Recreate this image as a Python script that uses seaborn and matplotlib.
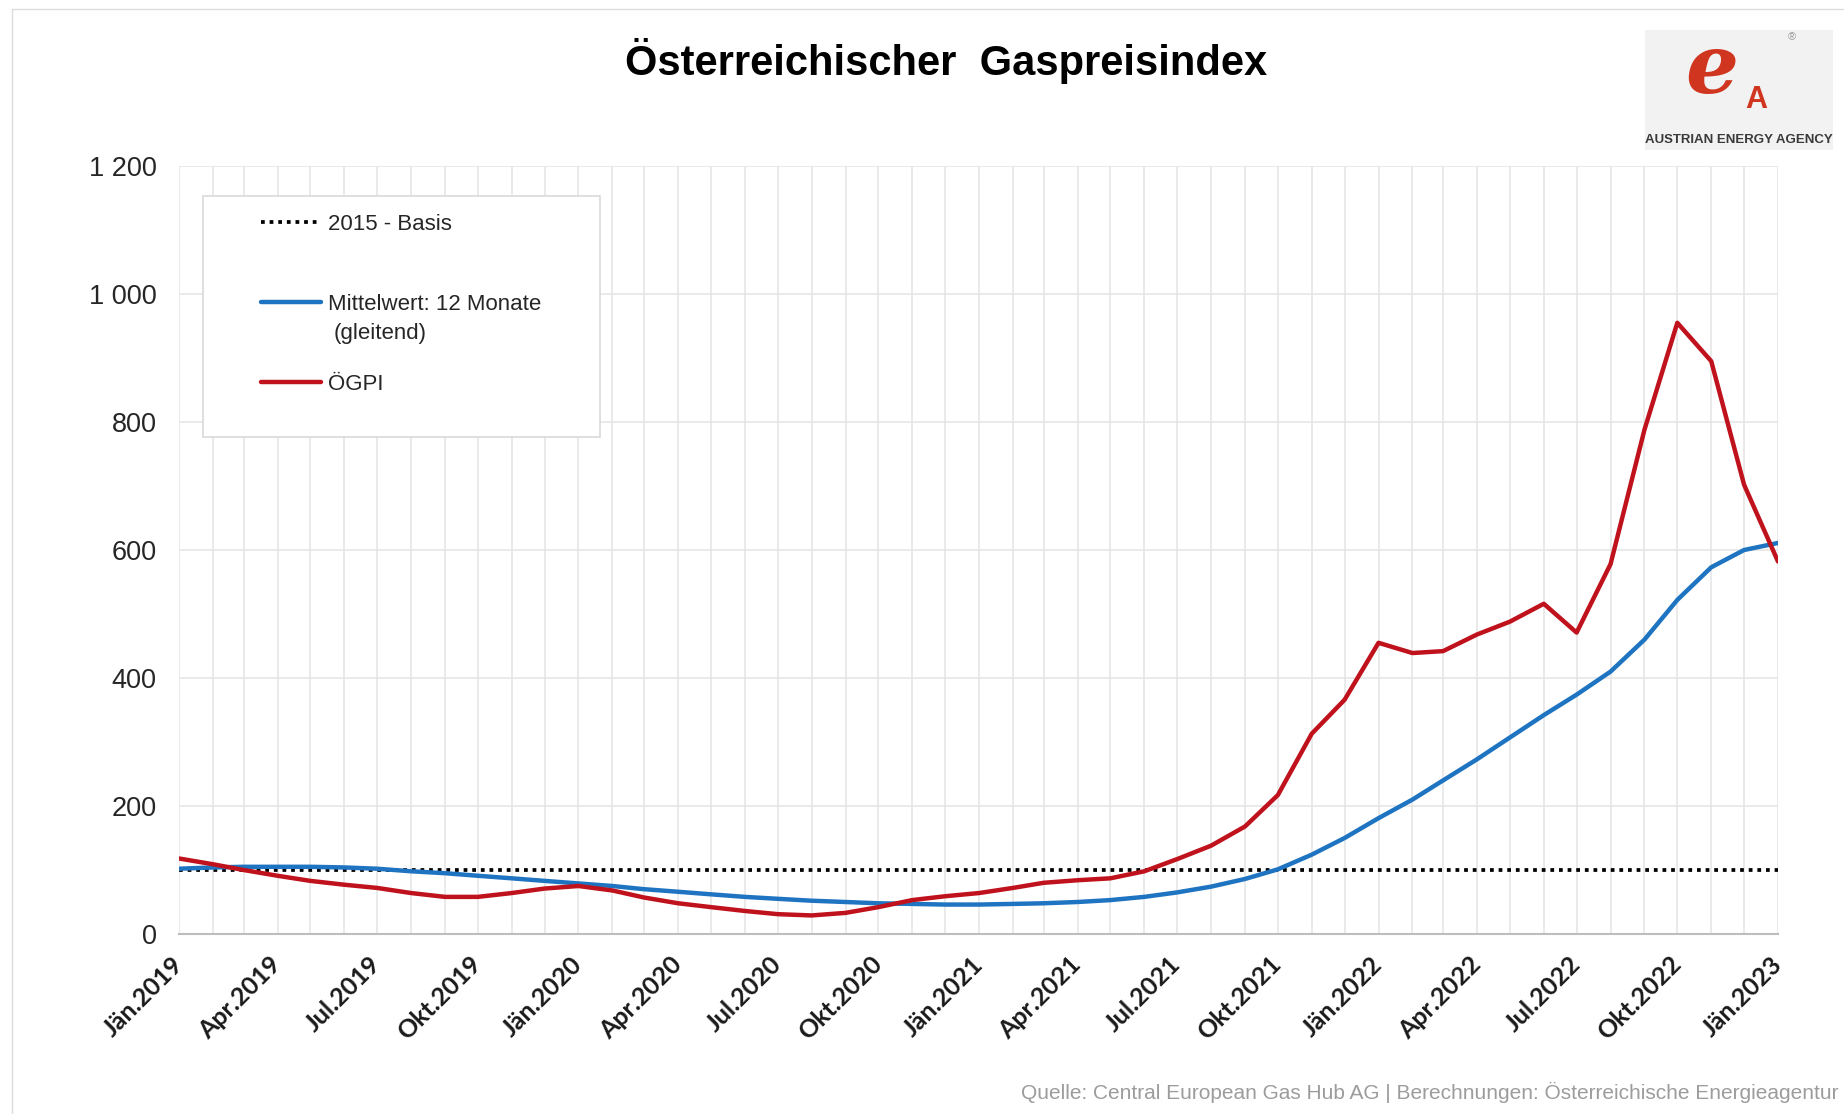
import pandas as pd
import matplotlib.pyplot as plt
import matplotlib.dates as mdates
from matplotlib.ticker import FuncFormatter, MultipleLocator
from matplotlib.patches import Rectangle
from matplotlib.lines import Line2D
import seaborn as sns

# Monthly values Jan 2019 - Jan 2023
months = pd.date_range("2019-01-01", "2023-01-01", freq="MS")

ogpi = [118, 109, 100, 91, 83, 77, 72, 64, 58, 58, 64, 71,
        75, 68, 57, 48, 42, 36, 31, 29, 33, 42, 53, 59,
        64, 72, 80, 84, 87, 98, 117, 138, 168, 217, 313, 366,
        455, 439, 442, 468, 488, 516, 471, 578, 788, 955, 895, 702,
        582]

mittelwert = [102, 104, 105, 105, 105, 104, 102, 98, 95, 91, 87, 83,
              79, 75, 70, 66, 62, 58, 55, 52, 50, 48, 47, 46,
              46, 47, 48, 50, 53, 58, 65, 74, 86, 101, 124, 150,
              181, 210, 240, 273, 307, 342, 374, 410, 460, 522, 573, 600,
              611]

basis = 100

tick_labels = ["Jän.2019", "Apr.2019", "Jul.2019", "Okt.2019",
               "Jän.2020", "Apr.2020", "Jul.2020", "Okt.2020",
               "Jän.2021", "Apr.2021", "Jul.2021", "Okt.2021",
               "Jän.2022", "Apr.2022", "Jul.2022", "Okt.2022",
               "Jän.2023"]

df = pd.DataFrame({"Monat": months, "ÖGPI": ogpi, "Mittelwert": mittelwert})
df["Basis"] = basis

sns.set_theme(style="white")
plt.rcParams["font.family"] = ["Liberation Sans", "DejaVu Sans"]

W, H = 1844, 1114
fig = plt.figure(figsize=(W / 100, H / 100), dpi=100)
ax = fig.add_axes([179 / W, 1 - 934 / H, 1599 / W, 768 / H])

BLUE = "#1f74c2"
RED = "#c0121c"

sns.lineplot(data=df, x="Monat", y="Basis", color="black", lw=2.7,
             linestyle=(0, (1, 1.3)), ax=ax, label="2015 - Basis", zorder=3)
sns.lineplot(data=df, x="Monat", y="Mittelwert", color=BLUE, lw=3.2,
             ax=ax, label="Mittelwert: 12 Monate", zorder=4)
sns.lineplot(data=df, x="Monat", y="ÖGPI", color=RED, lw=3.2,
             ax=ax, label="ÖGPI", zorder=5)

ax.set_xlim(months[0], months[-1])
ax.set_ylim(0, 1200)
ax.set_xlabel("")
ax.set_ylabel("")

ax.yaxis.set_major_locator(MultipleLocator(200))
ax.yaxis.set_major_formatter(FuncFormatter(lambda v, p: f"{int(v):,}".replace(",", " ")))

ax.set_xticks(months[::3])
ax.set_xticklabels(tick_labels, rotation=45, ha="right", va="center",
                   rotation_mode="anchor", fontfamily="Lato",
                   fontweight="bold", fontsize=18, color="#1a1a1a")
ax.xaxis.set_minor_locator(mdates.MonthLocator())

ax.grid(True, which="major", axis="y", color="#e6e6e6", lw=1.2)
ax.grid(True, which="both", axis="x", color="#e6e6e6", lw=1.2)
ax.tick_params(axis="both", which="both", length=0)
ax.tick_params(axis="y", labelsize=19.5, pad=16, labelcolor="#262626")
ax.tick_params(axis="x", pad=19)

for side in ["top", "right", "left"]:
    ax.spines[side].set_visible(False)
ax.spines["bottom"].set_color("#bdbdbd")
ax.spines["bottom"].set_linewidth(1.5)

# legend box
box = Rectangle((203 / W, 1 - 437 / H), 397 / W, 241 / H, transform=fig.transFigure,
                facecolor="white", edgecolor="#d9d9d9", lw=1.2, zorder=6)
ax.add_patch(box)
handles, labels = ax.get_legend_handles_labels()
leg = ax.legend(handles, labels, loc="upper left",
                bbox_to_anchor=(261 / W, 1 - 214 / H), bbox_transform=fig.transFigure,
                frameon=False, fontsize=16, handlelength=2.7, handletextpad=0.3,
                labelspacing=2.65, borderpad=0, borderaxespad=0)
leg.set_zorder(7)
for t in leg.get_texts():
    t.set_color("#262626")
fig.text(334 / W, 1 - 333 / H, "(gleitend)", fontsize=16, color="#262626",
         va="center", ha="left", zorder=8)

# title
fig.text(946 / W, 1 - 61 / H, "Österreichischer  Gaspreisindex", fontsize=30,
         fontweight="bold", ha="center", va="center", color="black")

# logo
fig.patches.append(Rectangle((1645 / W, 1 - 150 / H), 188 / W, 120 / H,
                             transform=fig.transFigure, facecolor="#f2f2f2",
                             edgecolor="none"))
fig.text(1712 / W, 1 - 70 / H, "e", fontsize=60, fontstyle="italic", fontweight="bold",
         family="DejaVu Serif", color="#d0351f", ha="center", va="center")
fig.text(1756 / W, 1 - 100 / H, "A", fontsize=22, fontweight="bold",
         color="#d0351f", ha="center", va="center")
fig.text(1792 / W, 1 - 37 / H, "®", fontsize=8, color="#9a9a9a", ha="center", va="center")
fig.text(1739 / W, 1 - 140 / H, "AUSTRIAN ENERGY AGENCY", fontsize=9.5, fontweight="bold",
         color="#3a3a3a", ha="center", va="center")

# source
fig.text(1838 / W, 1 - 1092 / H,
         "Quelle: Central European Gas Hub AG | Berechnungen: Österreichische Energieagentur",
         fontsize=15, color="#9c9c9c", ha="right", va="center")

# outer frame
fig.add_artist(Line2D([12 / W, 12 / W], [0, 1 - 9 / H], transform=fig.transFigure,
                      color="#dcdcdc", lw=1))
fig.add_artist(Line2D([12 / W, 1], [1 - 9 / H, 1 - 9 / H], transform=fig.transFigure,
                      color="#dcdcdc", lw=1))

fig.savefig("out.png", dpi=100, facecolor="white")
